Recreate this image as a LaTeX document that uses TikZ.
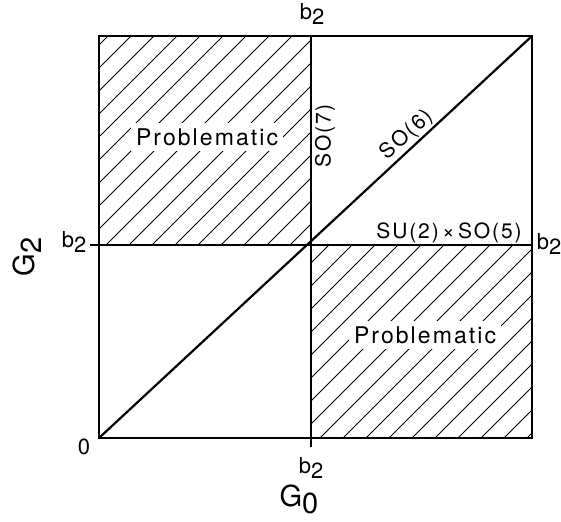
\documentclass[tikz,border=0pt]{standalone}
\usepackage{fontspec}
\setmainfont{TeX Gyre Heros}
\newfontfamily\lettering[LetterSpace=9]{TeX Gyre Heros}
\newcommand{\lowsub}[1]{\raisebox{-0.45ex}{#1}}
\begin{document}
\begin{tikzpicture}[x=1pt, y=1pt,
		frame/.style={line width=2.2pt},
		hatchline/.style={line width=0.9pt},
		lab/.style={font=\fontsize{22}{22}\selectfont, inner sep=1pt},
		axis/.style={font=\fontsize{29}{29}\selectfont, inner sep=1pt},
		grp/.style={font=\lettering\fontsize{21}{21}\selectfont, inner sep=1pt},
		region/.style={font=\lettering\fontsize{23}{23}\selectfont, fill=white, inner sep=5pt}]
	\useasboundingbox (0,0) rectangle (561,521);
	% corners and midpoints of the square
	\coordinate (o) at (99,83);
	\coordinate (c) at (311,276);
	\coordinate (tr) at (532,485);
	\coordinate (ml) at (99,276);
	\coordinate (mr) at (532,276);
	\coordinate (mt) at (311,485);
	\coordinate (mb) at (311,83);
	% hatched quadrants
	\begin{scope}
		\clip (ml) rectangle (mt);
		\foreach \d in {-400,-377,...,40} {\draw[hatchline] (\d+250,250) -- (\d+510,510);}
	\end{scope}
	\begin{scope}
		\clip (mb) rectangle (mr);
		\foreach \d in {30,53,...,460} {\draw[hatchline] (\d+70,70) -- (\d+290,290);}
	\end{scope}
	\node[region] (probA) at (207,384) {Problematic};
	\node[region] (probB) at (425,186) {Problematic};
	% frame
	\draw[frame] (o) rectangle (tr);
	\draw[frame] (ml) -- (mr);
	\draw[frame] (mb) -- (mt);
	\draw[frame] (o) -- (tr);
	\draw[frame] (ml) -- ++(-9,0);
	\draw[frame] (mb) -- ++(0,-9);
	% labels
	\node[lab] (btop) at (312,507) {b\lowsub{2}};
	\node[lab] (bleft) at (74,279) {b\lowsub{2}};
	\node[lab] (bright) at (549,277) {b\lowsub{2}};
	\node[lab] (bbot) at (311,53) {b\lowsub{2}};
	\node[font=\fontsize{22}{22}\selectfont, inner sep=1pt] (zero) at (84,74) {0};
	\node[axis] (gzero) at (299,22) {G\lowsub{0}};
	\node[axis, rotate=90] (gtwo) at (27,264) {G\lowsub{2}};
	\node[grp, rotate=90] (so7) at (325,385) {SO(7)};
	\node[grp, rotate=43.4] (so6) at (407,386) {SO(6)};
	\node[grp] (su2) at (449,288) {SU(2)\,×\,SO(5)};
\end{tikzpicture}
\end{document}
